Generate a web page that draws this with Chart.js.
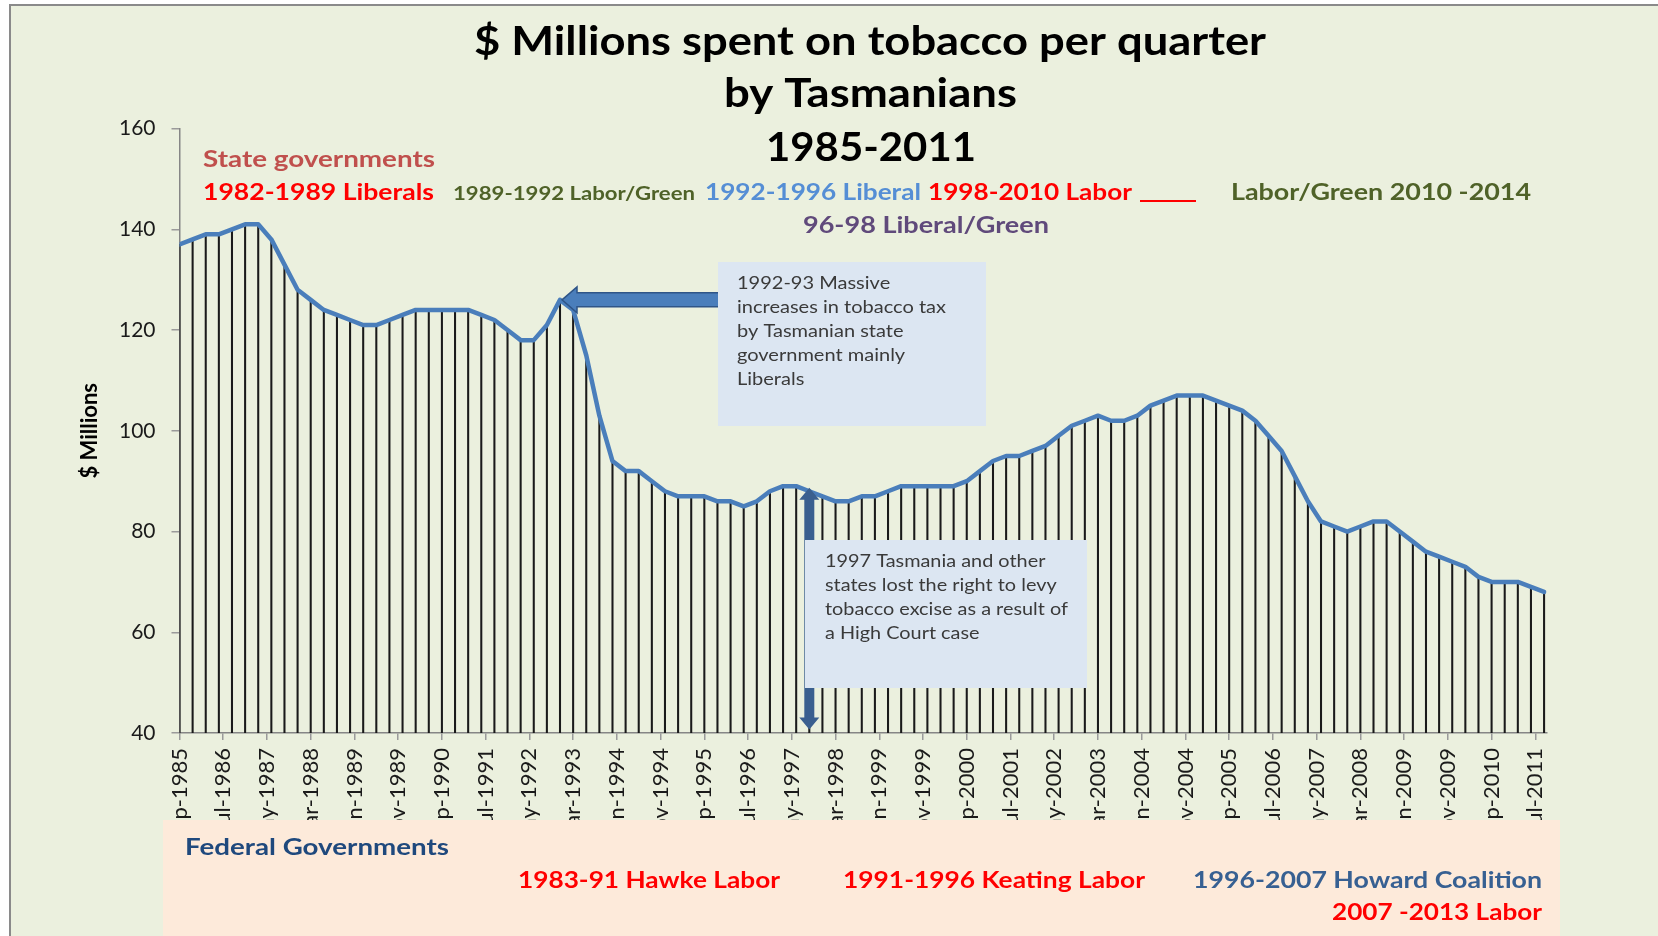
<!DOCTYPE html>
<html>
<head>
<meta charset="utf-8">
<title>Tobacco spending by Tasmanians</title>
<script src="https://cdn.jsdelivr.net/npm/chart.js@4.4.1/dist/chart.umd.min.js"></script>
<style>
  html, body { margin: 0; padding: 0; background: #fff; }
  canvas { display: block; }
</style>
</head>
<body>
<canvas id="tobaccoChart" width="1658" height="936"></canvas>
<script>
// $ millions spent per quarter, first quarter is Sep-1985, last is Sep-2011
const spend = [
  137, 138, 139, 139, 140, 141, 141, 138, 133, 128,
  126, 124, 123, 122, 121, 121, 122, 123, 124, 124,
  124, 124, 124, 123, 122, 120, 118, 118, 121, 126,
  124, 115, 103, 94, 92, 92, 90, 88, 87, 87,
  87, 86, 86, 85, 86, 88, 89, 89, 88, 87,
  86, 86, 87, 87, 88, 89, 89, 89, 89, 89,
  90, 92, 94, 95, 95, 96, 97, 99, 101, 102,
  103, 102, 102, 103, 105, 106, 107, 107, 107, 106,
  105, 104, 102, 99, 96, 91, 86, 82, 81, 80,
  81, 82, 82, 80, 78, 76, 75, 74, 73, 71,
  70, 70, 70, 69, 68
];

// quarters as months counted from Sep-1985
const quarterMonth = spend.map((v, i) => i * 3);

// date axis labels, one every 10 months
const tickLabels = [
  'Sep-1985', 'Jul-1986', 'May-1987', 'Mar-1988', 'Jan-1989', 'Nov-1989',
  'Sep-1990', 'Jul-1991', 'May-1992', 'Mar-1993', 'Jan-1994', 'Nov-1994',
  'Sep-1995', 'Jul-1996', 'May-1997', 'Mar-1998', 'Jan-1999', 'Nov-1999',
  'Sep-2000', 'Jul-2001', 'May-2002', 'Mar-2003', 'Jan-2004', 'Nov-2004',
  'Sep-2005', 'Jul-2006', 'May-2007', 'Mar-2008', 'Jan-2009', 'Nov-2009',
  'Sep-2010', 'Jul-2011'
];

const titleLines = ['$ Millions spent on tobacco per quarter', 'by Tasmanians', '1985-2011'];

const points = quarterMonth.map((m, i) => ({ x: m, y: spend[i] }));

// text notes drawn on top of the chart (x = left edge, y = baseline)
const notes = [
  { text: titleLines[0], x: 474, y: 55, size: 40, width: 792, color: '#000000' },
  { text: titleLines[1], x: 724, y: 107, size: 40, width: 293, color: '#000000' },
  { text: titleLines[2], x: 766, y: 161, size: 40, width: 210, color: '#000000' },
  { text: 'State governments', x: 203, y: 167, size: 23, width: 232, color: '#C0504D' },
  { text: '1982-1989 Liberals', x: 203, y: 200, size: 23, width: 231, color: '#FF0000' },
  { text: '1989-1992 Labor/Green', x: 453, y: 200, size: 18, width: 242, color: '#4F6228' },
  { text: '1992-1996 Liberal', x: 705, y: 200, size: 23, width: 216, color: '#558ED5' },
  { text: '1998-2010 Labor', x: 928, y: 200, size: 23, width: 204, color: '#FF0000' },
  { text: 'Labor/Green 2010 -2014', x: 1231, y: 200, size: 23, width: 300, color: '#4F6228' },
  { text: '96-98 Liberal/Green', x: 803, y: 233, size: 23, width: 246, color: '#604A7B' },
  { text: 'Federal Governments', x: 185, y: 855, size: 23, width: 264, color: '#1F497D' },
  { text: '1983-91 Hawke Labor', x: 518, y: 888, size: 23, width: 262, color: '#FF0000' },
  { text: '1991-1996 Keating Labor', x: 843, y: 888, size: 23, width: 302, color: '#FF0000' },
  { text: '1996-2007 Howard Coalition', x: 1193, y: 888, size: 23, width: 349, color: '#376092' },
  { text: '2007 -2013 Labor', x: 1332, y: 920, size: 23, width: 210, color: '#FF0000' }
];

const taxBox = ['1992-93 Massive', 'increases in tobacco tax', 'by Tasmanian state', 'government mainly', 'Liberals'];
const courtBox = ['1997 Tasmania and other', 'states lost the right to levy', 'tobacco excise as a result of', 'a High Court case'];

Chart.defaults.font.family = "'Lato', 'Open Sans', sans-serif";

function drawStretched(ctx, text, x, y, size, weight, color, width) {
    ctx.save();
    ctx.font = weight + ' ' + size + "px 'Lato', sans-serif";
    ctx.fillStyle = color;
    ctx.textAlign = 'left';
    ctx.textBaseline = 'alphabetic';
    const sx = width ? width / ctx.measureText(text).width : 1;
    ctx.translate(x, y);
    ctx.scale(sx, 1);
    ctx.fillText(text, 0, 0);
    ctx.restore();
}

function drawBoxText(ctx, lines, x, y0, refIdx, refWidth) {
    ctx.save();
    ctx.font = "18px 'Lato', sans-serif";
    const sx = refWidth / ctx.measureText(lines[refIdx]).width;
    ctx.restore();
    lines.forEach((line, i) => {
        ctx.save();
        ctx.font = "18px 'Lato', sans-serif";
        ctx.fillStyle = '#3a3a3a';
        ctx.translate(x, y0 + i * 24);
        ctx.scale(sx, 1);
        ctx.fillText(line, 0, 0);
        ctx.restore();
    });
}

const overlay = {
    id: 'overlay',
    beforeDraw(chart) {
        const { ctx, width, height } = chart;
        ctx.save();
        ctx.fillStyle = '#ffffff';
        ctx.fillRect(0, 0, width, height);
        ctx.fillStyle = '#EBF0DE';
        ctx.fillRect(10, 5, width - 10, height - 5);
        ctx.strokeStyle = '#8a8a8a';
        ctx.lineWidth = 2;
        ctx.beginPath();
        ctx.moveTo(10, height);
        ctx.lineTo(10, 5);
        ctx.lineTo(width, 5);
        ctx.stroke();
        ctx.restore();
    },
    afterDraw(chart) {
        const ctx = chart.ctx;
        const xs = chart.scales.x, ys = chart.scales.y;

        // arrow pointing at the 1992-93 peak
        const tipX = xs.getPixelForValue(87) + 2, tipY = ys.getPixelForValue(126);
        ctx.save();
        ctx.beginPath();
        ctx.moveTo(tipX, tipY);
        ctx.lineTo(tipX + 15, tipY - 13);
        ctx.lineTo(tipX + 15, tipY - 7);
        ctx.lineTo(720, tipY - 7);
        ctx.lineTo(720, tipY + 7);
        ctx.lineTo(tipX + 15, tipY + 7);
        ctx.lineTo(tipX + 15, tipY + 13);
        ctx.closePath();
        ctx.fillStyle = '#4A7EBB';
        ctx.fill();
        ctx.strokeStyle = '#2F5587';
        ctx.lineWidth = 1.5;
        ctx.stroke();

        // double arrow for the 1997 High Court case
        const ax = xs.getPixelForValue(144);
        const aTop = ys.getPixelForValue(88.7), aBot = ys.getPixelForValue(40.7);
        ctx.beginPath();
        ctx.moveTo(ax, aTop);
        ctx.lineTo(ax + 10, aTop + 12);
        ctx.lineTo(ax + 5, aTop + 12);
        ctx.lineTo(ax + 5, aBot - 12);
        ctx.lineTo(ax + 10, aBot - 12);
        ctx.lineTo(ax, aBot);
        ctx.lineTo(ax - 10, aBot - 12);
        ctx.lineTo(ax - 5, aBot - 12);
        ctx.lineTo(ax - 5, aTop + 12);
        ctx.lineTo(ax - 10, aTop + 12);
        ctx.closePath();
        ctx.fillStyle = '#3A5F8F';
        ctx.fill();

        // text boxes
        ctx.fillStyle = '#DCE6F2';
        ctx.fillRect(718, 262, 268, 164);
        ctx.fillRect(805, 540, 282, 148);

        // federal governments band
        ctx.fillStyle = '#FDEADA';
        ctx.fillRect(163, 820, 1397, 116);

        // red underline after "1998-2010 Labor"
        ctx.strokeStyle = '#FF0000';
        ctx.lineWidth = 2;
        ctx.beginPath();
        ctx.moveTo(1140, 201);
        ctx.lineTo(1196, 201);
        ctx.stroke();
        ctx.restore();

        drawBoxText(ctx, taxBox, 737, 289, 1, 209);
        drawBoxText(ctx, courtBox, 825, 567, 2, 243);

        notes.forEach(n => drawStretched(ctx, n.text, n.x, n.y, n.size, 'bold', n.color, n.width));
    }
};

new Chart(document.getElementById('tobaccoChart'), {
    type: 'line',
    data: {
        datasets: [
            {
                type: 'line',
                label: 'Spend',
                data: points,
                borderColor: '#4A7EBB',
                borderWidth: 4.5,
                pointRadius: 0,
                tension: 0,
                borderJoinStyle: 'round',
                borderCapStyle: 'round',
                order: 0
            },
            {
                type: 'bar',
                label: 'Drop lines',
                data: points,
                backgroundColor: '#1a1a1a',
                barThickness: 1.4,
                order: 1
            }
        ]
    },
    options: {
        responsive: false,
        animation: false,
        layout: { padding: { top: 128.6, right: 111.3, bottom: 0, left: 0 } },
        plugins: {
            legend: { display: false },
            tooltip: { enabled: false },
            title: { display: false }
        },
        scales: {
            x: {
                type: 'linear',
                min: 0,
                max: 312.6,
                offset: false,
                afterFit: s => { s.height = 203; },
                border: { display: true, color: '#868686', width: 1.5 },
                grid: { offset: false, drawOnChartArea: false, drawTicks: true, tickLength: 7, color: '#9a9a9a', lineWidth: 1.5 },
                ticks: {
                    stepSize: 10,
                    includeBounds: false,
                    autoSkip: false,
                    minRotation: 90,
                    maxRotation: 90,
                    padding: 8,
                    color: '#1a1a1a',
                    font: { size: 22 },
                    callback: v => tickLabels[Math.round(v / 10)] || ''
                }
            },
            y: {
                min: 40,
                max: 160,
                afterFit: s => { s.width = 179.5; },
                border: { display: true, color: '#868686', width: 1.5 },
                grid: { drawOnChartArea: false, drawTicks: true, tickLength: 8, color: '#9a9a9a', lineWidth: 1.5 },
                ticks: {
                    stepSize: 20,
                    padding: 16,
                    color: '#1a1a1a',
                    font: { size: 21 }
                },
                title: {
                    display: true,
                    text: '$ Millions',
                    color: '#000000',
                    font: { size: 22, weight: 'bold' },
                    padding: { top: 77, bottom: 0 }
                }
            }
        }
    },
    plugins: [overlay]
});
</script>
</body>
</html>
